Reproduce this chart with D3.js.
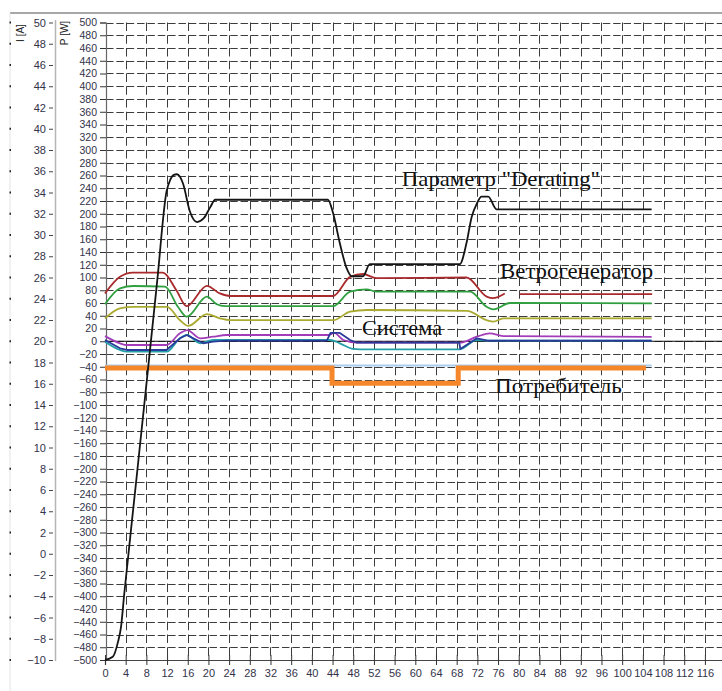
<!DOCTYPE html>
<html>
<head>
<meta charset="utf-8">
<script src="https://cdn.jsdelivr.net/npm/d3@7"></script>
<style>
  html, body { margin: 0; padding: 0; background: #fff; }
  svg { display: block; }
  .tick text { font-family: "Liberation Sans", Arial, sans-serif; }
</style>
</head>
<body>
<svg id="chart" width="722" height="691"></svg>
<script>
// ---------- data ----------
const xTicks = d3.range(0, 117, 4);
const pTicks = d3.range(-500, 501, 20);
const iTicks = d3.range(-10, 51, 2);

// time, P [W]
const derating = [[0,-500],[1.5,-495],[2.5,-472],[3.1,-448],[3.7,-398],[6,-222],[8.3,-45],[10.1,95],[11.9,235],[12.6,253],[13.3,261],[13.9,262],[14.5,258],[15.1,247],[16.4,204],[17.8,187],[19.1,193],[20.4,211],[21.3,222],[43.1,222],[44.1,201],[45.4,154],[46.7,115],[47.7,102],[49.9,102],[51.2,121],[68.6,121],[69.9,154],[70.9,195],[71.9,216],[72.8,227],[74.1,227],[75.7,207],[105.7,207]];
const red1 = [[0,75],[2.9,101],[5.4,107.5],[11.2,107.5],[13.8,80],[15.8,55],[19.7,87],[22.2,75],[24.2,71],[44.1,71],[47.4,101],[49.9,105.5],[52.5,99],[69.9,100],[73.8,70],[75,67.5],[77.3,75]];
const red2 = [[80.2,74],[105.8,74]];
const green = [[0,58],[2.9,83],[5.5,86.7],[11.6,85.6],[14.1,54],[15.8,38.5],[19.7,70],[21.6,58],[23.2,55],[44.1,55],[47.4,77.7],[50.6,81.5],[52.5,77.7],[70.6,77.7],[73.8,54],[75.1,50],[78.3,60],[105.7,59.5]];
const olive = [[0,36],[2.9,51.7],[5.5,54],[12,54],[14.5,33],[16.1,24],[19.7,42.7],[22.2,36],[24.2,33],[44.1,33],[47.4,46.4],[50.6,49],[70,47.5],[73.8,33],[75.1,30.7],[77,36],[105.7,36]];
const purple = [[0,8],[2.9,-3.2],[4.2,-5.9],[11.9,-5.9],[14.5,12.5],[15.9,17.6],[18.4,4.6],[20.9,7.1],[23.5,9.8],[43.3,9.8],[44.3,13],[46.1,2],[48.7,-2.3],[68.6,-2.3],[71.9,7.1],[74.4,12.5],[77,8],[105.7,7]];
const navy = [[0,2],[2.9,-11],[4.2,-13.7],[11.9,-13.7],[14.5,4.6],[15.8,9.8],[19,-3.2],[20.9,-0.7],[23.5,0.9],[42.9,0.9],[43.6,13],[45.4,13],[47.4,2],[48.7,-2.3],[68.5,-2.3],[68.7,-12],[71.9,4.6],[74,0.9],[105.7,0.9]];
const teal = [[0,-0.7],[2.9,-13.7],[4.2,-16.4],[11.9,-16.4],[14.5,4.6],[15.8,9.8],[18.4,-3.2],[20.9,2],[43.5,2],[45.4,-3.2],[48,-12],[49.3,-12.6],[68.6,-12.6],[71.9,2],[74,0.9],[105.7,0.9]];
const lightBlue = [[0,-38],[105.7,-38]];
const consumer = [[0,-42],[43.9,-42],[43.9,-66],[68.3,-66],[68.3,-42],[104.6,-42]];
const zeroLine = [[0,0],[120,0]];

const labelTexts = ['Параметр "Derating"', 'Ветрогенератор', 'Система', 'Потребитель'];

// ---------- layout ----------
const labelPos = [
  {x: 57.4, p: 244, w: 198},
  {x: 76.4, p: 99, w: 153},
  {x: 49.7, p: 10, w: 80},
  {x: 75.4, p: -81, w: 127}
];

const svg = d3.select("#chart");
const x = d3.scaleLinear().domain([0, 120]).range([105, 725.6]);
const yP = d3.scaleLinear().domain([-500, 500]).range([660, 22.5]);
const yI = d3.scaleLinear().domain([-10, 50]).range([660, 22.5]);

// frame
svg.append("line").attr("x1", 10).attr("x2", 722).attr("y1", 13).attr("y2", 13)
  .attr("stroke", "#8a8a8a").attr("stroke-width", 1.5);
svg.append("line").attr("x1", 10).attr("x2", 10).attr("y1", 13).attr("y2", 691)
  .attr("stroke", "#e4e4e4").attr("stroke-width", 1);
svg.append("g").selectAll("rect").data(iTicks).join("rect")
  .attr("x", 9.5).attr("y", d => yI(d) - 1).attr("width", 1.5).attr("height", 2).attr("fill", "#222");
svg.append("line").attr("x1", 55.5).attr("x2", 55.5).attr("y1", 20).attr("y2", 661)
  .attr("stroke", "#b5b5b5").attr("stroke-width", 1.5);

// grid
const grid = svg.append("g");
grid.selectAll("line.h").data(pTicks.filter(d => d > -500)).join("line").attr("class", "h")
  .attr("x1", 106).attr("x2", 722).attr("y1", d => Math.round(yP(d)) + 0.5).attr("y2", d => Math.round(yP(d)) + 0.5)
  .attr("stroke", "#3c3c3c").attr("stroke-width", 1).attr("stroke-dasharray", "7.5,2.85");
grid.selectAll("line.v").data(d3.range(4, 121, 4)).join("line").attr("class", "v")
  .attr("x1", d => Math.round(x(d)) + 0.5).attr("x2", d => Math.round(x(d)) + 0.5).attr("y1", 22.5).attr("y2", 660)
  .attr("stroke", "#3c3c3c").attr("stroke-width", 1).attr("stroke-dasharray", "8.5,4.25");

// axes
const axP = svg.append("g").attr("transform", "translate(106,0)")
  .call(d3.axisLeft(yP).tickValues(pTicks).tickSize(6).tickPadding(3).tickFormat(d3.format("d")));
axP.select(".domain").attr("stroke", "#666").attr("stroke-width", 1.2);
axP.selectAll(".tick line").attr("stroke", "#333");
axP.selectAll(".tick text").attr("font-size", 10.5).attr("fill", "#33334a");

const axI = svg.append("g").attr("transform", "translate(53,0)")
  .call(d3.axisLeft(yI).tickValues(iTicks).tickSize(4).tickPadding(3).tickFormat(d3.format("d")));
axI.select(".domain").remove();
axI.selectAll(".tick line").attr("stroke", "#444");
axI.selectAll(".tick text").attr("font-size", 11).attr("fill", "#33334a");

const axX = svg.append("g").attr("transform", "translate(0,660)")
  .call(d3.axisBottom(x).tickValues(xTicks).tickSize(5).tickPadding(4).tickFormat(d3.format("d")));
axX.select(".domain").attr("stroke", "#444").attr("stroke-width", 1.2);
axX.selectAll(".tick line").attr("stroke", "#333").attr("y1", -5);
axX.selectAll(".tick text").attr("font-size", 11).attr("fill", "#33334a");

// axis titles
svg.append("text").attr("transform", "translate(24,33) rotate(-90)").attr("text-anchor", "middle")
  .attr("font-family", "Liberation Sans, Arial, sans-serif").attr("font-size", 10).attr("fill", "#222").text("I [A]");
svg.append("text").attr("transform", "translate(68,33) rotate(-90)").attr("text-anchor", "middle")
  .attr("font-family", "Liberation Sans, Arial, sans-serif").attr("font-size", 10).attr("fill", "#222").text("P [W]");

// lines
const lineS = d3.line().x(d => x(d[0])).y(d => yP(d[1])).curve(d3.curveMonotoneX);
const lineL = d3.line().x(d => x(d[0])).y(d => yP(d[1]));

const plot = svg.append("g").attr("fill", "none").attr("stroke-linejoin", "round");
plot.append("path").attr("d", lineL(zeroLine)).attr("stroke", "#111").attr("stroke-width", 1.2);
plot.append("path").attr("d", lineL(lightBlue)).attr("stroke", "#a9cdee").attr("stroke-width", 1.8);
plot.append("path").attr("d", lineS(olive)).attr("stroke", "#aaaa30").attr("stroke-width", 1.8);
plot.append("path").attr("d", lineS(green)).attr("stroke", "#2f9f3f").attr("stroke-width", 1.8);
plot.append("path").attr("d", lineS(red1)).attr("stroke", "#a82a2c").attr("stroke-width", 1.8);
plot.append("path").attr("d", lineL(red2)).attr("stroke", "#a82a2c").attr("stroke-width", 1.8);
plot.append("path").attr("d", lineS(teal)).attr("stroke", "#25a0a8").attr("stroke-width", 1.8);
plot.append("path").attr("d", lineS(purple)).attr("stroke", "#a23cb8").attr("stroke-width", 1.8);
plot.append("path").attr("d", lineL(navy)).attr("stroke", "#2a3a9a").attr("stroke-width", 1.8);
plot.append("path").attr("d", lineL(consumer)).attr("stroke", "#f5872a").attr("stroke-width", 5).attr("stroke-linejoin", "miter");
plot.append("path").attr("d", lineS(derating)).attr("stroke", "#151515").attr("stroke-width", 1.8);

// annotations
svg.append("g").selectAll("text").data(labelTexts).join("text")
  .attr("x", (d, i) => x(labelPos[i].x)).attr("y", (d, i) => yP(labelPos[i].p))
  .attr("textLength", (d, i) => labelPos[i].w).attr("lengthAdjust", "spacingAndGlyphs")
  .attr("font-family", "Liberation Serif, Times New Roman, serif").attr("font-size", 21).attr("fill", "#111")
  .text(d => d);
</script>
</body>
</html>
